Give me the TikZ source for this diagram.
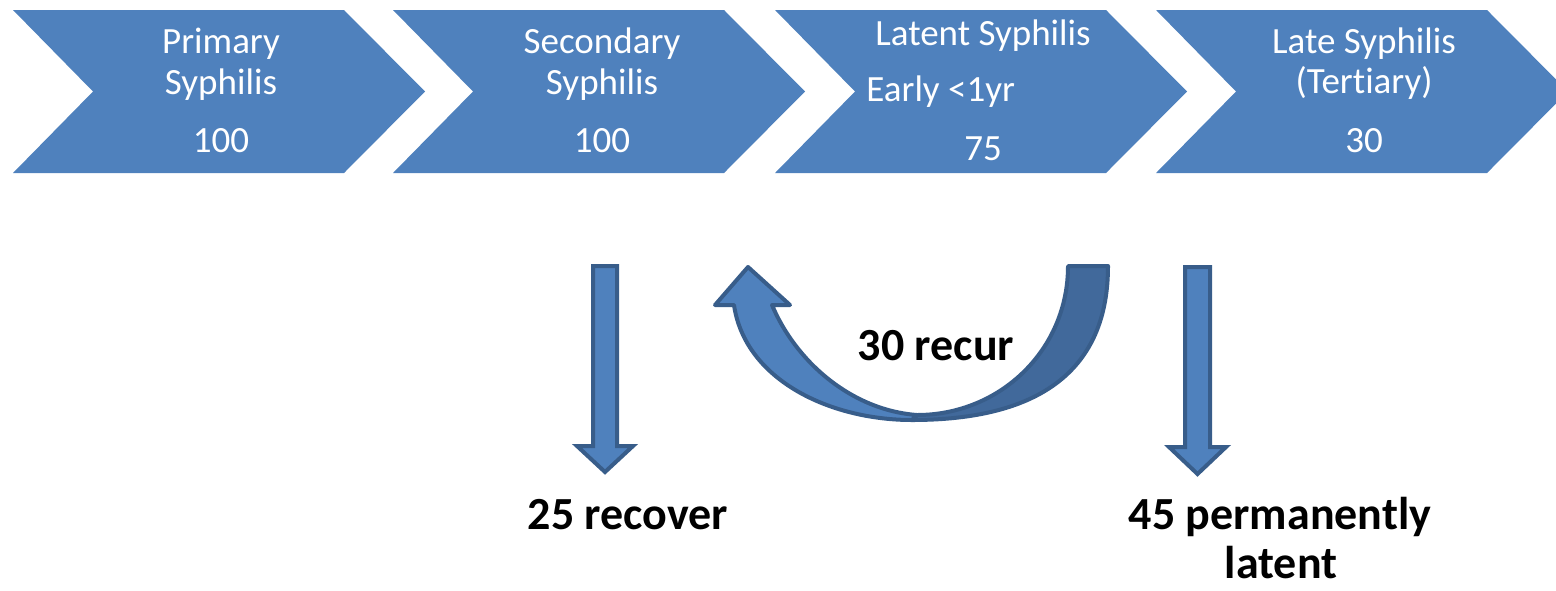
\documentclass[tikz,border=0pt]{standalone}
\usepackage{fontspec}
\setmainfont{Carlito}[Ligatures=NoCommon]
\usepackage{tikz}
\usetikzlibrary{positioning,calc}
\definecolor{chevblue}{HTML}{4F81BD}
\definecolor{edgeblue}{HTML}{385D8A}
\definecolor{backblue}{HTML}{41699B}
\tikzset{
    stage/.style={fill=chevblue, draw=none},
    stagetext/.style={anchor=base, inner sep=0pt, text=white, font=\fontsize{18.5}{20}\selectfont},
    outcome/.style={anchor=base, inner sep=0pt, text=black, font=\fontsize{23}{25}\selectfont\bfseries},
    blockarrow/.style={fill=chevblue, draw=edgeblue, line width=2pt, line join=miter},
    backface/.style={fill=backblue, draw=edgeblue, line width=2pt, line join=round}
}
% one chevron of the timeline, #1 = left x
\newcommand{\stagechevron}[1]{%
    \fill[stage] (#1,10) -- ++(331,0) -- ++(81,81.5) -- ++(-81,81.5) -- ++(-331,0) -- ++(80,-81.5) -- cycle;}

\begin{document}
\begin{tikzpicture}[x=0.5pt, y=-0.5pt]
\useasboundingbox (0,0) rectangle (1556,590);

% stages
\stagechevron{13}
\stagechevron{393}
\stagechevron{775}
\stagechevron{1156}

\node[stagetext] (primA) at (221,53) {Primary};
\node[stagetext] (primB) at (221,94) {Syphilis};
\node[stagetext] (primN) at (221,152) {100};

\node[stagetext] (secA) at (602,53) {Secondary};
\node[stagetext] (secB) at (602,94) {Syphilis};
\node[stagetext] (secN) at (602,152) {100};

\node[stagetext] (latA) at (983,45) {Latent Syphilis};
\node[stagetext, anchor=base west] (latB) at (866,101) {Early <1yr};
\node[stagetext] (latN) at (983,160) {75};

\node[stagetext] (terA) at (1364,53) {Late Syphilis};
\node[stagetext] (terB) at (1364,93) {(Tertiary)};
\node[stagetext] (terN) at (1364,152) {30};

% outcomes
\draw[blockarrow] (593,266) -- (617,266) -- (617,446) -- (633,446) -- (605,472) -- (577,446) -- (593,446) -- cycle;
\draw[blockarrow] (1185,267) -- (1210,267) -- (1210,447) -- (1226,447) -- (1197.5,474) -- (1169,447) -- (1185,447) -- cycle;

% recurrence arrow
\draw[backface] (1068,266) -- (1108,266) .. controls (1108,370) and (1040,420) .. (912,420) -- (917,415) .. controls (1000,415) and (1068,350) .. (1068,266) -- cycle;
\draw[blockarrow, line join=round] (734,305) -- (715,305) -- (748,267) -- (790,305) -- (772,305) .. controls (795,360) and (850,410) .. (917,415) -- (912,420) .. controls (830,420) and (745,380) .. (734,305) -- cycle;

\node[outcome] (recur) at (936,360) {30 recur};
\node[outcome] (recover) at (628,529) {25 recover};
\node[outcome] (permA) at (1280,529) {45 permanently};
\node[outcome] (permB) at (1281,578) {latent};

\end{tikzpicture}
\end{document}
